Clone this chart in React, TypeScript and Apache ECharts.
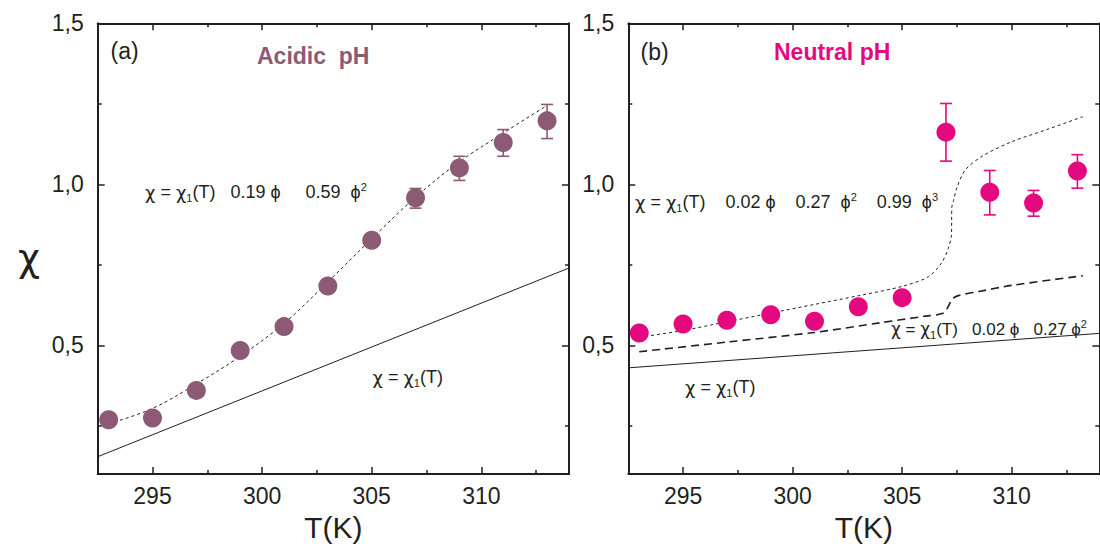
import React, { useEffect, useRef } from "react";
import * as echarts from "echarts";

// ---------- data ----------
const TEMPS = [293, 295, 297, 299, 301, 303, 305, 307, 309, 311, 313];

const acidicChi = [0.269, 0.274, 0.36, 0.484, 0.558, 0.684, 0.826, 0.958, 1.051, 1.13, 1.197];
const acidicErrT = [307, 309, 311, 313];
const acidicErrLo = [0.926, 1.012, 1.087, 1.142];
const acidicErrHi = [0.987, 1.087, 1.17, 1.248];
const acidicFitT = [293, 295, 297, 299, 301, 303, 305, 307, 309, 311, 313];
const acidicFitChi = [0.256, 0.304, 0.38, 0.466, 0.568, 0.697, 0.831, 0.96, 1.07, 1.159, 1.245];
const acidicBaseT = [292.5, 314];
const acidicBaseChi = [0.154, 0.74];

const neutralChi = [0.538, 0.566, 0.578, 0.595, 0.575, 0.62, 0.648, 1.162, 0.975, 0.942, 1.041];
const neutralErrT = [307, 309, 311, 313];
const neutralErrLo = [1.072, 0.905, 0.901, 0.988];
const neutralErrHi = [1.251, 1.043, 0.981, 1.092];
const neutralFit3T = [293, 295, 297, 299, 301, 303, 305, 306.2, 306.8, 307.1, 307.25, 307.27, 307.35, 307.5, 307.9, 308.7, 310, 311.6, 313.25];
const neutralFit3Chi = [0.525, 0.546, 0.573, 0.6, 0.627, 0.654, 0.683, 0.713, 0.756, 0.8, 0.842, 0.93, 0.95, 0.99, 1.046, 1.089, 1.132, 1.17, 1.21];
const neutralFit2T = [293, 297, 301, 304, 306, 306.9, 307.1, 307.3, 307.6, 308.5, 310, 313.25];
const neutralFit2Chi = [0.48, 0.51, 0.54, 0.57, 0.59, 0.6, 0.62, 0.645, 0.655, 0.667, 0.686, 0.716];
const neutralBaseT = [292.5, 314];
const neutralBaseChi = [0.43, 0.537];

const X_MAJOR = [295, 300, 305, 310];
const X_MINOR = [297.5, 302.5, 307.5, 312.5];
const Y_MAJOR = [0.5, 1.0, 1.5];
const Y_MINOR = [0.25, 0.75, 1.25];

const MAUVE = "#8D5A76";
const MAGENTA = "#E5097F";
const INK = "#231F20";
const FONT = "'Liberation Sans', Arial, Helvetica, sans-serif";
const GREEK = "'DejaVu Sans', sans-serif";

const zip = (a: number[], b: number[]) => a.map((v, i) => [v, b[i]]);
const zip3 = (a: number[], b: number[], c: number[]) => a.map((v, i) => [v, b[i], c[i]]);

function xAxes(g: number) {
  const base = { gridIndex: g, type: "value", min: 292.5, max: 314, splitLine: { show: false } };
  const line = { show: true, onZero: false, lineStyle: { color: INK, width: 2 } };
  return [
    {
      ...base,
      position: "bottom",
      axisLine: line,
      axisTick: { show: true, inside: true, length: 7, customValues: X_MAJOR, lineStyle: { color: INK, width: 1.5 } },
      axisLabel: { show: true, customValues: X_MAJOR, fontSize: 23, margin: 10, color: INK, fontFamily: FONT },
      name: "T(K)",
      nameLocation: "middle",
      nameGap: 37,
      nameTextStyle: { fontSize: 30, color: INK, fontFamily: FONT },
    },
    {
      ...base,
      position: "bottom",
      axisLine: { show: false },
      axisTick: { show: true, inside: true, length: 4, customValues: X_MINOR, lineStyle: { color: INK, width: 1.5 } },
      axisLabel: { show: false },
    },
    {
      ...base,
      position: "top",
      axisLine: line,
      axisTick: { show: true, inside: true, length: 7, customValues: X_MAJOR, lineStyle: { color: INK, width: 1.5 } },
      axisLabel: { show: false },
    },
    {
      ...base,
      position: "top",
      axisLine: { show: false },
      axisTick: { show: true, inside: true, length: 4, customValues: X_MINOR, lineStyle: { color: INK, width: 1.5 } },
      axisLabel: { show: false },
    },
  ];
}

function yAxes(g: number) {
  const base = { gridIndex: g, type: "value", min: 0.1, max: 1.5, splitLine: { show: false } };
  const line = { show: true, onZero: false, lineStyle: { color: INK, width: 2 } };
  return [
    {
      ...base,
      position: "left",
      axisLine: line,
      axisTick: { show: true, inside: true, length: 7, customValues: Y_MAJOR, lineStyle: { color: INK, width: 1.5 } },
      axisLabel: {
        show: true,
        customValues: Y_MAJOR,
        fontSize: 23,
        margin: 14,
        color: INK,
        fontFamily: FONT,
        formatter: (v: number) => v.toFixed(1).replace(".", ","),
      },
    },
    {
      ...base,
      position: "left",
      axisLine: { show: false },
      axisTick: { show: true, inside: true, length: 4, customValues: Y_MINOR, lineStyle: { color: INK, width: 1.5 } },
      axisLabel: { show: false },
    },
    {
      ...base,
      position: "right",
      axisLine: line,
      axisTick: { show: true, inside: true, length: 7, customValues: Y_MAJOR, lineStyle: { color: INK, width: 1.5 } },
      axisLabel: { show: false },
    },
    {
      ...base,
      position: "right",
      axisLine: { show: false },
      axisTick: { show: true, inside: true, length: 4, customValues: Y_MINOR, lineStyle: { color: INK, width: 1.5 } },
      axisLabel: { show: false },
    },
  ];
}

function errorSeries(axis: number, data: number[][], color: string) {
  return {
    type: "custom",
    xAxisIndex: axis,
    yAxisIndex: axis,
    data,
    encode: { x: 0, y: [1, 2] },
    z: 3,
    renderItem: (_p: any, api: any) => {
      const x = api.value(0);
      const lo = api.coord([x, api.value(1)]);
      const hi = api.coord([x, api.value(2)]);
      const w = 6;
      const st = { stroke: color, lineWidth: 1.6 };
      return {
        type: "group",
        children: [
          { type: "line", shape: { x1: lo[0], y1: lo[1], x2: hi[0], y2: hi[1] }, style: st },
          { type: "line", shape: { x1: lo[0] - w, y1: lo[1], x2: lo[0] + w, y2: lo[1] }, style: st },
          { type: "line", shape: { x1: hi[0] - w, y1: hi[1], x2: hi[0] + w, y2: hi[1] }, style: st },
        ],
      };
    },
  };
}

function lineSeries(axis: number, data: number[][], type: any, width: number, smooth: any) {
  return {
    type: "line",
    xAxisIndex: axis,
    yAxisIndex: axis,
    data,
    symbol: "none",
    smooth,
    z: 2,
    lineStyle: { color: INK, width, type },
  };
}

function scatterSeries(axis: number, data: number[][], color: string) {
  return {
    type: "scatter",
    xAxisIndex: axis,
    yAxisIndex: axis,
    data,
    symbol: "circle",
    symbolSize: 19,
    z: 4,
    itemStyle: { color, opacity: 1 },
  };
}

function eqLabel(x: number, y: number, text: string, size = 18) {
  return {
    type: "text",
    x,
    y,
    z: 10,
    style: {
      text,
      fontSize: size,
      fontFamily: FONT,
      fill: INK,
      lineHeight: 22,
      verticalAlign: "middle",
      textAlign: "left",
      rich: {
        c: { fontSize: size, fontFamily: GREEK, fill: INK, lineHeight: 22 },
        s: { fontSize: 11, fontFamily: FONT, fill: INK, verticalAlign: "bottom", lineHeight: 10 },
        p: { fontSize: 11, fontFamily: FONT, fill: INK, verticalAlign: "top", lineHeight: 10 },
      },
    },
  };
}

function plainLabel(x: number, y: number, text: string, size: number, color: string, weight: string) {
  return {
    type: "text",
    x,
    y,
    z: 10,
    style: { text, fontSize: size, fontWeight: weight, fontFamily: FONT, fill: color, verticalAlign: "middle", textAlign: "left" },
  };
}

const CHI = "{c|χ} = {c|χ}{s|1}(T)";

export default function App() {
  const ref = useRef<HTMLDivElement>(null);

  useEffect(() => {
    if (!ref.current) return;
    const chart = echarts.init(ref.current, null, { renderer: "svg" });
    const option: any = {
      animation: false,
      backgroundColor: "#ffffff",
      textStyle: { fontFamily: FONT },
      grid: [
        { left: 97.7, top: 23.3, width: 471.3, height: 455.2, containLabel: false },
        { left: 628.3, top: 23.3, width: 471, height: 455.2, containLabel: false },
      ],
      xAxis: [...xAxes(0), ...xAxes(1)],
      yAxis: [...yAxes(0), ...yAxes(1)],
      series: [
        lineSeries(0, zip(acidicBaseT, acidicBaseChi), "solid", 1, false),
        lineSeries(0, zip(acidicFitT, acidicFitChi), [3, 3], 1, 0.35),
        errorSeries(0, zip3(acidicErrT, acidicErrLo, acidicErrHi), MAUVE),
        scatterSeries(0, zip(TEMPS, acidicChi), MAUVE),

        lineSeries(4, zip(neutralBaseT, neutralBaseChi), "solid", 1, false),
        lineSeries(4, zip(neutralFit3T, neutralFit3Chi), [3, 3], 1, 0.3),
        lineSeries(4, zip(neutralFit2T, neutralFit2Chi), [8, 5], 1.6, 0.3),
        errorSeries(4, zip3(neutralErrT, neutralErrLo, neutralErrHi), MAGENTA),
        scatterSeries(4, zip(TEMPS, neutralChi), MAGENTA),
      ],
      graphic: [
        { type: "text", x: 29, y: 258, z: 10, style: { text: "χ", fontSize: 38, fontFamily: GREEK, fill: INK, textAlign: "center", verticalAlign: "middle" } },
        plainLabel(110.5, 51, "(a)", 23, INK, "normal"),
        plainLabel(257, 56, "Acidic  pH", 23, MAUVE, "bold"),
        eqLabel(145, 192, CHI + "   0.19 ϕ     0.59  ϕ{p|2}"),
        eqLabel(372.5, 377, CHI),
        plainLabel(640.6, 52, "(b)", 23, INK, "normal"),
        plainLabel(774, 52, "Neutral pH", 23, MAGENTA, "bold"),
        eqLabel(635, 202, CHI + "    0.02 ϕ    0.27  ϕ{p|2}    0.99  ϕ{p|3}"),
        eqLabel(891, 329, CHI + "   0.02 ϕ   0.27 ϕ{p|2}", 17),
        eqLabel(685, 387, CHI),
      ],
    };
    chart.setOption(option);
    return () => chart.dispose();
  }, []);

  return (
    <div
      ref={ref}
      style={{ position: "fixed", left: 0, top: 0, width: 1100, height: 547, background: "#fff" }}
    />
  );
}
